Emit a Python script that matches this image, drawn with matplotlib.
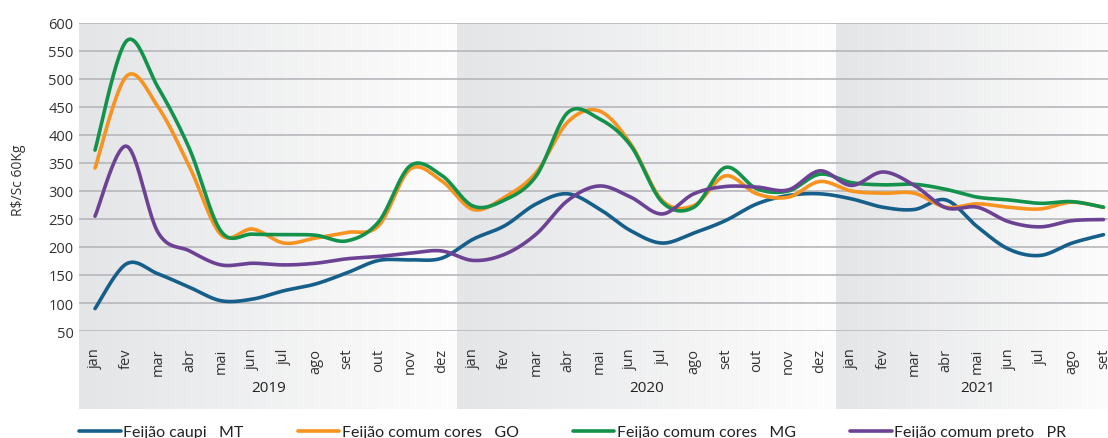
import numpy as np
import matplotlib.pyplot as plt
from matplotlib.colors import LinearSegmentedColormap

# monthly prices, R$/sc 60kg (jan/2019 .. set/2021)
meses = ['jan', 'fev', 'mar', 'abr', 'mai', 'jun', 'jul', 'ago', 'set', 'out', 'nov', 'dez']
months = meses * 2 + meses[:9]
years = ['2019', '2020', '2021']

caupi_mt = [90, 170, 152, 128, 104, 107, 122, 134, 154, 176, 177, 180,
            214, 238, 277, 295, 268, 229, 207, 225, 247, 277, 292, 295,
            286, 271, 267, 284, 236, 196, 185, 207, 222]
cores_go = [341, 505, 450, 343, 222, 232, 207, 216, 226, 238, 339, 318,
            267, 289, 333, 423, 443, 384, 283, 274, 327, 295, 289, 317,
            300, 296, 296, 271, 277, 271, 268, 280, 271]
cores_mg = [373, 568, 485, 375, 228, 223, 222, 221, 211, 245, 345, 328,
            273, 284, 327, 440, 429, 381, 280, 271, 342, 304, 300, 330,
            315, 311, 312, 303, 289, 284, 278, 281, 271]
preto_pr = [255, 380, 226, 193, 168, 171, 168, 171, 179, 183, 189, 193,
            176, 187, 223, 283, 309, 289, 259, 295, 308, 307, 302, 336,
            310, 334, 310, 270, 271, 245, 236, 247, 249]

series = [
    ('Feijão caupi   MT', caupi_mt, '#155f8a'),
    ('Feijão comum cores   GO', cores_go, '#f7931e'),
    ('Feijão comum cores   MG', cores_mg, '#12924a'),
    ('Feijão comum preto   PR', preto_pr, '#6c4394'),
]


def smooth(x, y, n=24):
    """Catmull-Rom curve through the points (like Excel's smoothed line)."""
    pts = np.column_stack([x, y]).astype(float)
    P = np.vstack([pts[0], pts, pts[-1]])
    t = np.linspace(0, 1, n, endpoint=False)[:, None]
    out = []
    for i in range(len(pts) - 1):
        p0, p1, p2, p3 = P[i], P[i + 1], P[i + 2], P[i + 3]
        c = 0.5 * (2 * p1 + (-p0 + p2) * t + (2 * p0 - 5 * p1 + 4 * p2 - p3) * t ** 2
                   + (-p0 + 3 * p1 - 3 * p2 + p3) * t ** 3)
        out.append(c)
    out.append(pts[-1:])
    out = np.vstack(out)
    return out[:, 0], out[:, 1]


W, H = 1108, 439
fig = plt.figure(figsize=(W / 100, H / 100), dpi=100)


def px_axes(x0, y0, x1, y1):
    return fig.add_axes([x0 / W, 1 - y1 / H, (x1 - x0) / W, (y1 - y0) / H])


x = np.arange(len(months))
xlim = (-0.5, len(months) - 0.5)

# shaded year bands behind the plot
bg = px_axes(79.25, 24, 1119.25, 410)
grad = np.linspace(0, 1, 256)[None, :]
cmap = LinearSegmentedColormap.from_list('band', ['#e4e5e7', '#fdfdfd'])
for i, yr in enumerate(years):
    x0 = i * 12 - 0.5
    x1 = min(i * 12 + 11.5, xlim[1])
    bg.imshow(grad, extent=[x0, x1, 0, 1], aspect='auto', cmap=cmap, interpolation='bicubic')
bg.set_xlim(*xlim)
bg.set_ylim(0, 1)
bg.axis('off')

ax = px_axes(79.25, 24, 1119.25, 332)
ax.patch.set_alpha(0)
ax.set_xlim(*xlim)
ax.set_ylim(50, 600)
ax.set_yticks(range(50, 601, 50))
ax.grid(axis='y', color='#b7b7bb', linewidth=1.2)
ax.set_axisbelow(True)
for s in ax.spines.values():
    s.set_visible(False)
ax.tick_params(length=0, labelsize=10.5, labelcolor='#333333', pad=4)
ax.set_xticks(x)
ax.set_xticklabels(months, rotation=90, fontfamily='Open Sans')
ax.tick_params(axis='x', pad=12)
for lab in ax.get_yticklabels():
    lab.set_fontfamily('Open Sans')

for name, vals, col in series:
    sx, sy = smooth(x, vals)
    ax.plot(sx, sy, color=col, linewidth=2.6, label=name, solid_capstyle='round')

for i, yr in enumerate(years):
    xc = (i * 12 - 0.5 + min(i * 12 + 11.5, xlim[1])) / 2
    ax.text(xc, -0.185, yr, transform=ax.get_xaxis_transform(),
            ha='center', va='center', fontsize=11, color='#222222', fontfamily='Open Sans')

fig.text(18 / W, 1 - 180 / H, 'R$/Sc 60Kg', rotation=90, ha='center', va='center',
         fontsize=10, color='#333333', fontfamily='Open Sans')

handles, labels = ax.get_legend_handles_labels()
fig.legend(handles, labels, ncol=4, loc='center left', bbox_to_anchor=(79 / W, 6 / H),
           frameon=False, handlelength=2.6, handletextpad=0.15, columnspacing=3.4,
           borderpad=0, borderaxespad=0, prop={'family': 'Lato', 'size': 11.5},
           labelcolor='#222222')

fig.savefig('out.png', dpi=100)
